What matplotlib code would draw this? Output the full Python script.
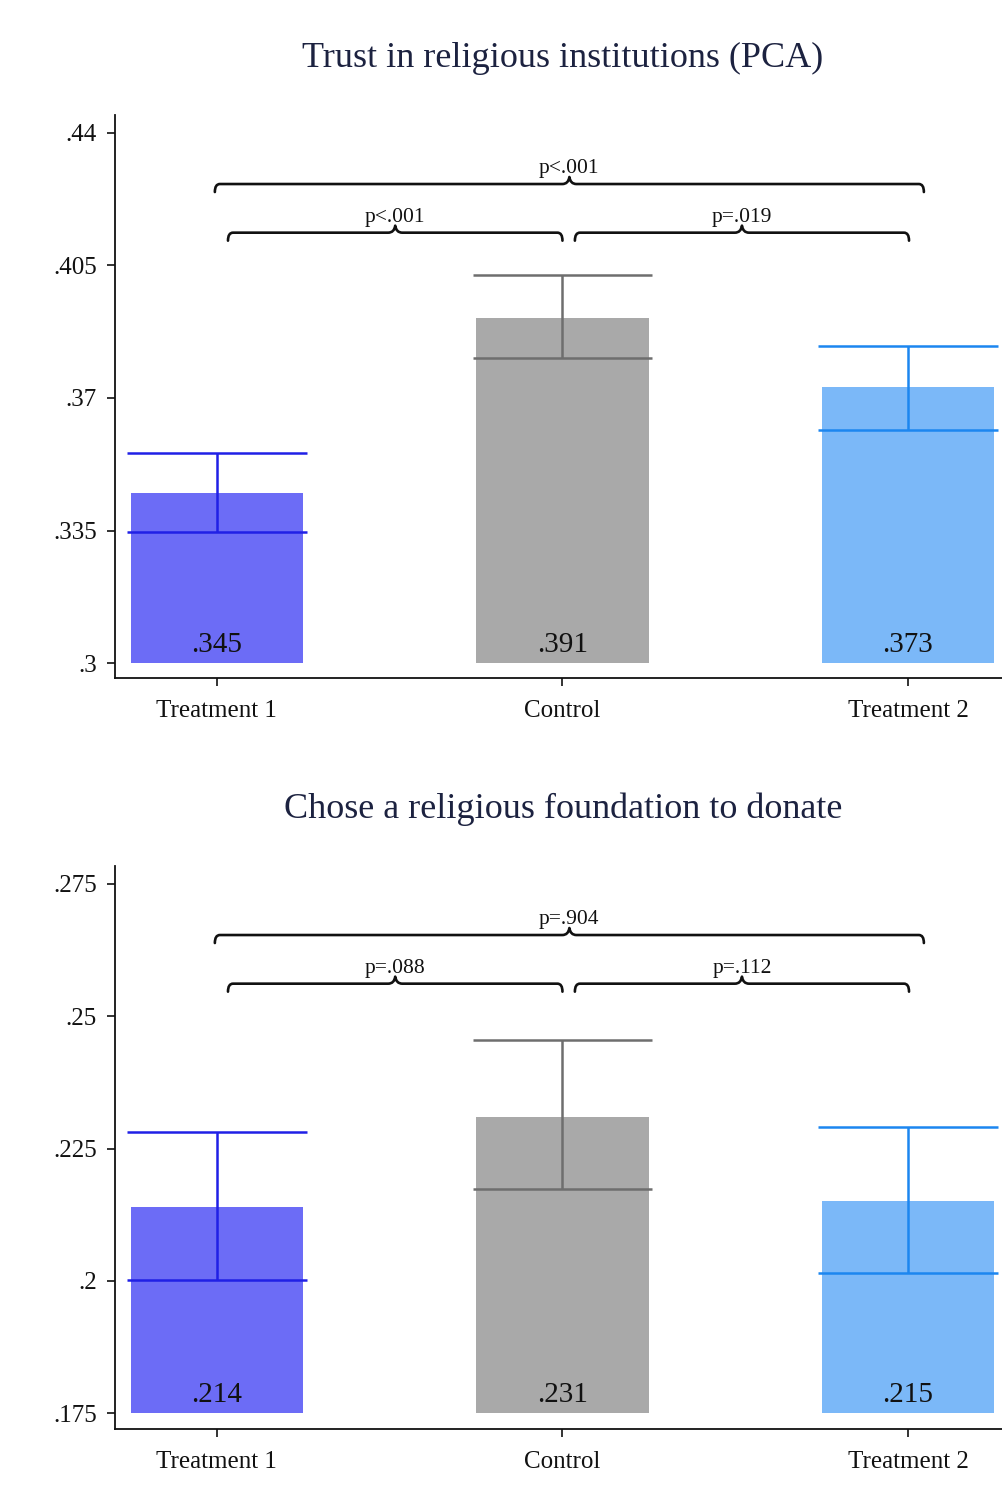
import matplotlib
matplotlib.use("Agg")
import matplotlib.pyplot as plt
from matplotlib.path import Path
from matplotlib.patches import PathPatch

plt.rcParams["font.family"] = ["Liberation Serif", "DejaVu Serif"]

# ---- data ----
groups = ["Treatment 1", "Control", "Treatment 2"]

trust_title = "Trust in religious institutions (PCA)"
trust_means = [0.345, 0.391, 0.373]
trust_ci_low = [0.3346, 0.3806, 0.3615]
trust_ci_high = [0.3555, 0.4025, 0.3837]
trust_ticks = [0.3, 0.335, 0.37, 0.405, 0.44]
trust_ticklabels = [".3", ".335", ".37", ".405", ".44"]
trust_pvalues = ["p<.001", "p=.019", "p<.001"]  # T1 vs C, C vs T2, T1 vs T2

donate_title = "Chose a religious foundation to donate"
donate_means = [0.214, 0.231, 0.215]
donate_ci_low = [0.2002, 0.2173, 0.2015]
donate_ci_high = [0.2281, 0.2455, 0.2291]
donate_ticks = [0.175, 0.2, 0.225, 0.25, 0.275]
donate_ticklabels = [".175", ".2", ".225", ".25", ".275"]
donate_pvalues = ["p=.088", "p=.112", "p=.904"]

bar_colors = ["#6c6cf6", "#a9a9a9", "#7bb8f8"]
err_colors = ["#2020e6", "#6e6e6e", "#1c86f0"]

W, H = 1003, 1495
fig = plt.figure(figsize=(W / 100, H / 100), dpi=100)
fig.patch.set_facecolor("white")

positions = [1, 2, 3]
px_per_unit = 345.7  # horizontal pixels per category step


def brace(ax, x0, x1, y, label):
    """Horizontal curly brace (tip pointing up) with its label above."""
    trans = ax.get_xaxis_transform()
    ax_h = ax.get_position().height * H
    rx = 5 / px_per_unit
    ry = 8 / ax_h
    nx = 7 / px_per_unit
    ny = 7 / ax_h
    xm = (x0 + x1) / 2
    verts = [
        (x0, y - ry), (x0, y), (x0 + rx, y),
        (xm - nx, y),
        (xm - nx * 0.15, y), (xm, y + ny),
        (xm + nx * 0.15, y), (xm + nx, y),
        (x1 - rx, y),
        (x1, y), (x1, y - ry),
    ]
    codes = [Path.MOVETO, Path.CURVE3, Path.CURVE3,
             Path.LINETO,
             Path.CURVE3, Path.CURVE3,
             Path.CURVE3, Path.CURVE3,
             Path.LINETO,
             Path.CURVE3, Path.CURVE3]
    patch = PathPatch(Path(verts, codes), transform=trans, fill=False,
                      lw=1.9, edgecolor="#111111", capstyle="round",
                      joinstyle="round", clip_on=False)
    ax.add_patch(patch)
    ax.text(xm, y + ny - 1 / ax_h, label, transform=trans, ha="center",
            va="bottom", fontsize=15.5, color="#111111")


def panel(rect, means, lo, hi, ticks, ticklabels, ylim, pvals):
    ax = fig.add_axes(rect)
    heights = [m - ticks[0] for m in means]
    ax.bar(positions, heights, bottom=ticks[0], width=0.5,
           color=bar_colors, edgecolor="none", zorder=2)
    for x, l, h, c in zip(positions, lo, hi, err_colors):
        ax.vlines(x, l, h, color=c, lw=1.8, zorder=3)
        ax.hlines([l, h], x - 0.26, x + 0.26, color=c, lw=1.8, zorder=3,
                  clip_on=False)
    for x, m in zip(positions, means):
        ax.annotate(f"{m:.3f}".lstrip("0"), xy=(x, ticks[0]),
                    xytext=(0, 18.5 * 0.72), textcoords="offset points",
                    ha="center", va="center", fontsize=21, color="#111111",
                    zorder=4)
    ax.set_xlim(0.705, 3.275)
    ax.set_ylim(*ylim)
    ax.set_yticks(ticks)
    ax.set_yticklabels(ticklabels)
    ax.set_xticks(positions)
    ax.set_xticklabels(groups)
    for s in ["top", "right"]:
        ax.spines[s].set_visible(False)
    for s in ["left", "bottom"]:
        ax.spines[s].set_linewidth(1.3)
        ax.spines[s].set_color("#111111")
    ax.tick_params(axis="both", direction="out", length=6, width=1.2,
                   color="#111111", labelsize=18, labelcolor="#111111")
    ax.tick_params(axis="y", pad=7)
    ax.tick_params(axis="x", pad=10)
    # pairwise comparison braces
    brace(ax, 1.032, 2.0, 0.791, pvals[0])
    brace(ax, 2.036, 3.003, 0.791, pvals[1])
    brace(ax, 0.994, 3.046, 0.8774, pvals[2])
    return ax


left = 115 / W
width = 1 - left

top_ax = panel([left, 1 - 678 / H, width, 563 / H],
               trust_means, trust_ci_low, trust_ci_high, trust_ticks,
               trust_ticklabels, (0.29604, 0.44475), trust_pvalues)
bot_ax = panel([left, 1 - 1429 / H, width, 563 / H],
               donate_means, donate_ci_low, donate_ci_high, donate_ticks,
               donate_ticklabels, (0.17198, 0.2784), donate_pvalues)

fig.text(563 / W, 1 - 58 / H, trust_title, ha="center", va="center",
         fontsize=26, color="#1c2240")
fig.text(563 / W, 1 - 809 / H, donate_title, ha="center", va="center",
         fontsize=26, color="#1c2240")

fig.savefig("out.png", dpi=100, facecolor="white")
